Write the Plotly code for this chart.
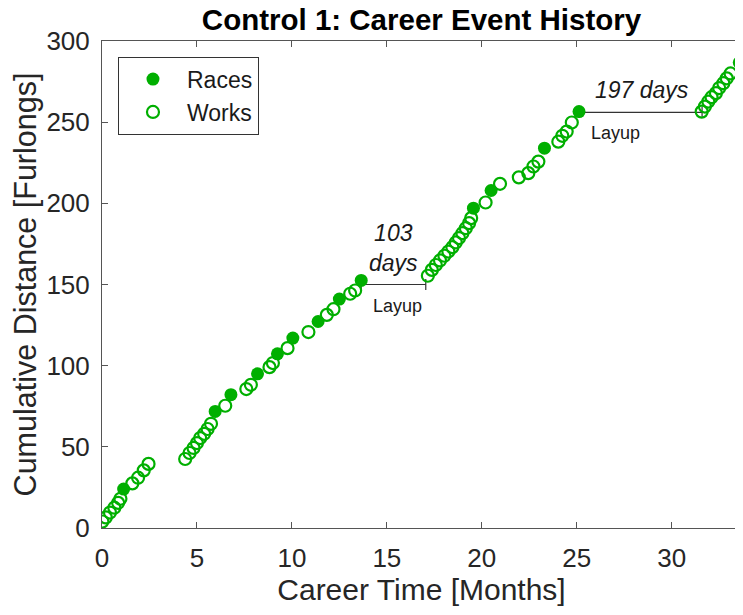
import plotly.graph_objects as go

# career events (months, cumulative furlongs)
race_months = [1.14, 5.96, 6.79, 8.19, 9.24, 10.05, 11.38, 12.5, 13.65,
               19.56, 20.49, 23.3, 25.12, 33.56]
race_dist = [24, 71.8, 82.1, 95, 107.3, 117, 127.2, 141, 152.5,
             197, 207.9, 234, 256.5, 286.7]

work_months = [0.02, 0.2, 0.42, 0.65, 0.85, 0.97, 1.6, 1.9, 2.2, 2.45,
               4.38, 4.61, 4.82, 5.0, 5.17, 5.38, 5.56, 5.74, 6.49, 7.6, 7.84,
               8.82, 9.0, 9.77, 10.87, 11.84, 12.19, 13.07, 13.33,
               17.16, 17.37, 17.58, 17.8, 18.03, 18.24, 18.45, 18.63, 18.8,
               18.98, 19.16, 19.33, 19.44, 20.2, 20.96, 21.95, 22.45, 22.72,
               22.98, 24.03, 24.24, 24.47, 24.74,
               31.58, 31.75, 31.93, 32.1, 32.33, 32.5, 32.72, 32.9, 33.1]
work_dist = [4, 6.5, 9.5, 12.5, 15.5, 18, 27.5, 31, 35.5, 39.5,
             42.5, 46.2, 49.3, 52.3, 55.4, 58, 61, 64.2, 75.3, 85.6, 88.2,
             99.1, 101.6, 110.8, 120.7, 131.3, 134.8, 144.3, 146.3,
             155.4, 159, 162, 164.8, 167.7, 170.3, 173, 175.9, 178.6,
             181.6, 184.7, 187.8, 190.9, 200.5, 212, 216, 218.6, 222.7,
             225.7, 238, 241.6, 244.2, 249.8,
             256.5, 259.6, 262.7, 265.4, 267.9, 271, 274, 277, 280]

layup_start = [13.65, 25.12]
layup_end = [17.05, 31.6]
layup_level = [150, 256]
layup_days = ['103<br>days', '197 days']

GREEN = 'rgb(0,175,0)'
FONT = 'Liberation Sans, Arial, sans-serif'

# the page body adds an 8px margin, so the figure is drawn 8px smaller
W, H = 735, 607

fig = go.Figure()

for s, e, lvl in zip(layup_start, layup_end, layup_level):
    fig.add_trace(go.Scatter(
        x=[s, e], y=[lvl, lvl], mode='lines+markers',
        line=dict(color='#333333', width=1.2),
        marker=dict(symbol='line-ns-open', size=8,
                    line=dict(color='#333333', width=1.2)),
        showlegend=False, hoverinfo='skip'))

fig.add_trace(go.Scatter(
    x=race_months, y=race_dist, mode='markers', name='Races',
    marker=dict(symbol='circle', size=13, color=GREEN)))
fig.add_trace(go.Scatter(
    x=work_months, y=work_dist, mode='markers', name='Works',
    marker=dict(symbol='circle-open', size=12, color=GREEN,
                line=dict(color=GREEN, width=2.2))))

# layup labels
shifts = [(0, 37), (1, 22)]
for i, (s, e, lvl) in enumerate(zip(layup_start, layup_end, layup_level)):
    fig.add_annotation(x=(s + e) / 2, y=lvl, text=layup_days[i],
                       showarrow=False, xshift=shifts[i][0], yshift=shifts[i][1],
                       font=dict(family=FONT, size=23, color='#1a1a1a',
                                 style='italic'),
                       xanchor='center', yanchor='middle')
    fig.add_annotation(x=s, y=lvl, text='Layup', showarrow=False,
                       xshift=36, yshift=-21, xanchor='center', yanchor='middle',
                       font=dict(family=FONT, size=18, color='#1a1a1a'))

axis_style = dict(showline=True, linecolor='#555555', linewidth=1,
                  mirror='ticks', ticks='inside', ticklen=6,
                  tickcolor='#555555', showgrid=False, zeroline=False,
                  automargin=False,
                  tickfont=dict(family=FONT, size=26, color='#262626'))

fig.update_xaxes(range=[0, 33.65], dtick=5, tick0=0,
                 title=dict(text='Career Time [Months]', standoff=4,
                            font=dict(family=FONT, size=30, color='#262626')),
                 ticklabelstandoff=7, **axis_style)
fig.update_yaxes(range=[0, 300], dtick=50, tick0=0,
                 title=dict(text='Cumulative Distance [Furlongs]', standoff=4,
                            font=dict(family=FONT, size=30.5, color='#262626')),
                 ticklabelstandoff=6, **axis_style)

fig.update_layout(
    width=W, height=H,
    margin=dict(l=94, r=2, t=33, b=87),
    plot_bgcolor='white', paper_bgcolor='white',
    title=dict(text='<b>Control 1: Career Event History</b>',
               x=0.5, xref='paper', xanchor='center',
               y=1 - 11.5 / H, yref='container', yanchor='middle',
               font=dict(family=FONT, size=29.5, color='black')),
    legend=dict(x=0.025, y=0.968, xanchor='left', yanchor='top',
                bordercolor='#333333', borderwidth=1, bgcolor='white',
                font=dict(family=FONT, size=23, color='#1a1a1a'),
                itemwidth=58, tracegroupgap=0),
    showlegend=True,
)

fig.write_html('out.html')
